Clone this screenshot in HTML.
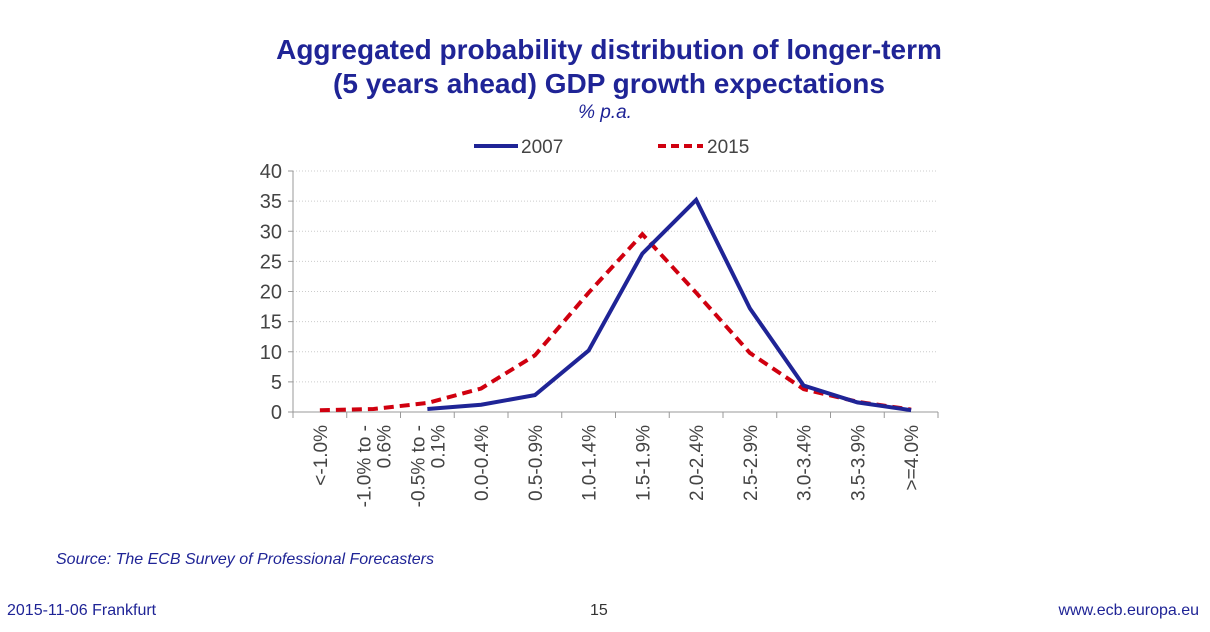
<!DOCTYPE html>
<html><head><meta charset="utf-8"><style>
body{margin:0;width:1210px;height:632px;background:#fff;font-family:"Liberation Sans",sans-serif;overflow:hidden;position:relative}
.t{position:absolute;left:0;width:1210px;text-align:center;color:#1f2496;font-weight:bold;font-size:28px;line-height:34px}
.abs{position:absolute}
</style></head><body>
<div class="t" style="top:33px;left:4px">Aggregated probability distribution of longer-term<br>(5 years ahead) GDP growth expectations</div>
<div class="abs" style="top:102px;left:0;width:1210px;text-align:center;font-style:italic;color:#1f2496;font-size:19px">% p.a.</div>
<div class="abs" style="left:56px;top:551px;font-style:italic;color:#1f2496;font-size:16px">Source: The ECB Survey of Professional Forecasters</div>
<div class="abs" style="left:7px;top:602px;color:#1f2496;font-size:16px">2015-11-06 Frankfurt</div>
<div class="abs" style="left:590px;top:602px;color:#333;font-size:16px">15</div>
<div class="abs" style="right:11px;top:602px;color:#1f2496;font-size:16px">www.ecb.europa.eu</div>
<svg id="c" class="abs" style="left:0;top:0" width="1210" height="632"></svg>
<script>
const categories=["<-1.0%","-1.0% to -|0.6%","-0.5% to -|0.1%","0.0-0.4%","0.5-0.9%","1.0-1.4%","1.5-1.9%","2.0-2.4%","2.5-2.9%","3.0-3.4%","3.5-3.9%",">=4.0%"];
const s2007=[null,null,0.5,1.2,2.8,10.2,26.3,35.2,17.2,4.4,1.6,0.3];
const s2015=[0.3,0.5,1.5,3.9,9.4,19.8,29.5,19.8,9.8,3.8,1.7,0.4];
const yTicks=[0,5,10,15,20,25,30,35,40];
const NS="http://www.w3.org/2000/svg";
const svg=document.getElementById('c');
const X0=293,X1=938,Y0=412,Y1=171;
const bw=(X1-X0)/categories.length;
const x=i=>X0+bw*(i+0.5);
const y=v=>Y0-(v/40)*(Y0-Y1);
function mk(t,a){const e=document.createElementNS(NS,t);for(const k in a)e.setAttribute(k,a[k]);svg.appendChild(e);return e;}
yTicks.forEach(v=>{
 if(v>0){const g=mk('line',{x1:X0,x2:X1,y1:y(v),y2:y(v),stroke:'#ccc','stroke-dasharray':'1,2'});
 
 }
 const tk=mk('line',{x1:X0-5,x2:X0,y1:y(v),y2:y(v),stroke:'#999'});
 
 
 const t=mk('text',{x:X0-11,y:y(v)+7,'text-anchor':'end','font-size':20,fill:'#444','font-family':'Liberation Sans Narrow, Liberation Sans, sans-serif'});
 t.textContent=v;
 
 
});
const ya=mk('line',{x1:X0,x2:X0,y1:Y1,y2:Y0,stroke:'#999'});


const xa=mk('line',{x1:X0,x2:X1,y1:Y0,y2:Y0,stroke:'#999'});


for(let i=0;i<=categories.length;i++){
 const tk=mk('line',{x1:X0+bw*i,x2:X0+bw*i,y1:Y0,y2:Y0+6,stroke:'#999'});
 
 
}
categories.forEach((c,i)=>{
 const lines=c.split('|');
 lines.forEach((l,j)=>{
  const off=(j-(lines.length-1)/2)*20;
  const t=mk('text',{transform:`translate(${x(i)+7+off},425) rotate(-90)`,'text-anchor':'end','font-size':19,fill:'#444','font-family':'Liberation Sans, sans-serif'});
  t.textContent=l;
  
  
 });
});
function path(arr){let d='';let st=false;arr.forEach((v,i)=>{if(v==null)return;d+=(st?'L':'M')+x(i)+','+y(v);st=true;});return d;}
const p15=mk('path',{d:path(s2015),fill:'none',stroke:'#d0000f','stroke-width':4,'stroke-dasharray':'10,6'});


const p07=mk('path',{d:path(s2007),fill:'none',stroke:'#1f2496','stroke-width':4});


const l1=mk('line',{x1:474,x2:518,y1:146,y2:146,stroke:'#1f2496','stroke-width':4});


const t1=mk('text',{x:521,y:153,'font-size':19,fill:'#444','font-family':'Liberation Sans, sans-serif'});t1.textContent='2007';


const l2=mk('line',{x1:658,x2:703,y1:146,y2:146,stroke:'#d0000f','stroke-width':4,'stroke-dasharray':'8,5'});


const t2=mk('text',{x:707,y:153,'font-size':19,fill:'#444','font-family':'Liberation Sans, sans-serif'});t2.textContent='2015';


</script>
</body></html>
